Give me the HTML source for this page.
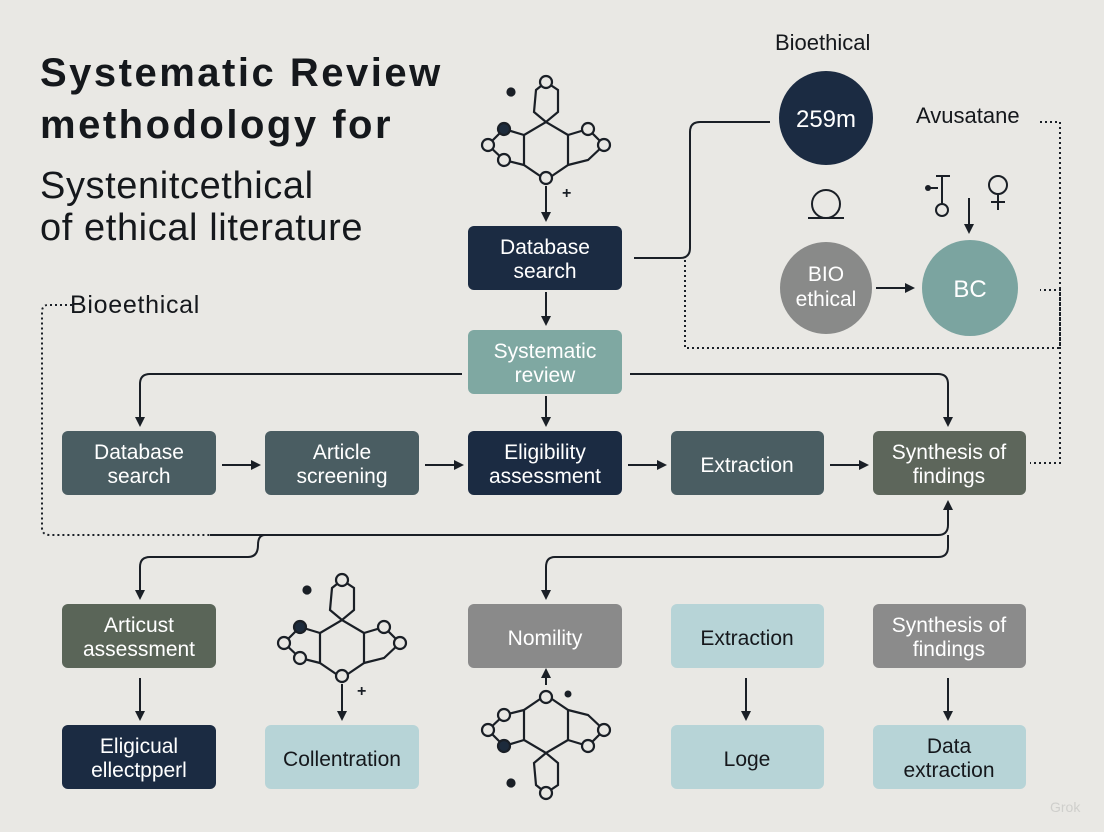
<!DOCTYPE html>
<html><head><meta charset="utf-8"><style>
body{margin:0;background:#e9e8e4;}
svg{display:block}
text{font-family:"Liberation Sans",sans-serif}
</style></head><body>
<svg width="1104" height="832" viewBox="0 0 1104 832" xmlns="http://www.w3.org/2000/svg">
<defs>
<marker id="a" markerWidth="10" markerHeight="10" refX="8" refY="5" orient="auto" markerUnits="userSpaceOnUse"><path d="M0,0 L10,5 L0,10 z" fill="#1a1f26"/></marker>
<g id="mol" fill="none" stroke="#1a1f26" stroke-width="2.2">
<path d="M0,0 L22,-15 L22,-45 M0,0 L-22,-15 L-22,-45 L0,-58 L22,-45"/>
<path d="M0,-58 L-12,-68 L-10,-90 L0,-98 L12,-90 L12,-68 Z"/>
<path d="M-22,-45 L-42,-51 L-58,-35 L-42,-20 L-22,-15"/>
<path d="M22,-45 L42,-51 L58,-35 L42,-20 L22,-15"/>
<circle cx="0" cy="-2" r="6" fill="#e9e8e4"/><circle cx="0" cy="-98" r="6" fill="#e9e8e4"/>
<circle cx="-42" cy="-51" r="6" fill="#1d2b3c"/><circle cx="-58" cy="-35" r="6" fill="#e9e8e4"/><circle cx="-42" cy="-20" r="6" fill="#e9e8e4"/>
<circle cx="42" cy="-51" r="6" fill="#e9e8e4"/><circle cx="58" cy="-35" r="6" fill="#e9e8e4"/>
<circle cx="-35" cy="-88" r="3.5" fill="#1a1f26"/>
</g>
</defs>
<g font-weight="bold" fill="#15181c" letter-spacing="2.5"><text x="40" y="86" font-size="40">Systematic Review</text><text x="40" y="138" font-size="40">methodology for</text></g>
<g fill="#15181c" font-size="38" letter-spacing="0.6"><text x="40" y="198">Systenitcethical</text><text x="40" y="240">of ethical literature</text></g>
<text x="70" y="313" font-size="25" fill="#15181c" letter-spacing="0.7">Bioeethical</text>
<text x="775" y="50" font-size="22" fill="#15181c">Bioethical</text>
<text x="916" y="123" font-size="22" fill="#15181c">Avusatane</text>

<use href="#mol" x="546" y="180"/>
<text x="562" y="198" font-size="16" font-weight="bold" fill="#1a1f26">+</text>
<use href="#mol" x="342" y="678"/>
<text x="357" y="696" font-size="16" font-weight="bold" fill="#1a1f26">+</text>
<g transform="translate(546,695) scale(1,-1)"><use href="#mol"/></g>

<g fill="none" stroke="#1a1f26" stroke-width="2">
<path d="M546,186 V220" marker-end="url(#a)"/>
<path d="M546,292 V324" marker-end="url(#a)"/>
<path d="M546,396 V425" marker-end="url(#a)"/>
<path d="M634,258 H680 Q690,258 690,248 V132 Q690,122 700,122 H770"/>
<path d="M462,374 H150 Q140,374 140,384 V425" marker-end="url(#a)"/>
<path d="M630,374 H938 Q948,374 948,384 V425" marker-end="url(#a)"/>
<path d="M222,465 H259" marker-end="url(#a)"/>
<path d="M425,465 H462" marker-end="url(#a)"/>
<path d="M628,465 H665" marker-end="url(#a)"/>
<path d="M830,465 H867" marker-end="url(#a)"/>
<path d="M210,535 H938 Q948,535 948,525 V502" marker-end="url(#a)"/>
<path d="M265,535 Q258,535 258,545 Q258,557 248,557 H150 Q140,557 140,567 V598" marker-end="url(#a)"/>
<path d="M948,535 V547 Q948,557 938,557 H555 Q546,557 546,567 V598" marker-end="url(#a)"/>
<path d="M140,678 V719" marker-end="url(#a)"/>
<path d="M342,684 V719" marker-end="url(#a)"/>
<path d="M546,685 V670" marker-end="url(#a)"/>
<path d="M746,678 V719" marker-end="url(#a)"/>
<path d="M948,678 V719" marker-end="url(#a)"/>
<path d="M876,288 H913" marker-end="url(#a)"/>
<path d="M969,198 V232" marker-end="url(#a)"/>
<path d="M808,218 H844 M812,204 A14,14 0 1 1 840,204 A14,14 0 1 1 812,204"/>
<path d="M926,188 H938 M942,176 V205 M936,176 H950"/><circle cx="942" cy="210" r="6"/>
<circle cx="998" cy="185" r="9"/><path d="M998,194 V210 M991,202 H1005"/>
</g>
<circle cx="928" cy="188" r="3" fill="#1a1f26"/>
<circle cx="568" cy="694" r="3.5" fill="#1a1f26"/>
<g fill="none" stroke="#1a1f26" stroke-width="2" stroke-dasharray="2,3">
<path d="M72,305 H48 Q42,305 42,312 V528 Q42,535 50,535 H210"/>
<path d="M685,260 V348 H1060 V290 H1040"/>
<path d="M1040,122 H1060 V463 H1030"/>
</g>

<circle cx="826" cy="118" r="47" fill="#1b2b42"/><text x="826" y="127" font-size="24" fill="#fff" text-anchor="middle">259m</text>
<circle cx="826" cy="288" r="46" fill="#898a89"/><text x="826" y="281" font-size="21" fill="#fff" text-anchor="middle">BIO</text><text x="826" y="306" font-size="21" fill="#fff" text-anchor="middle">ethical</text>
<circle cx="970" cy="288" r="48" fill="#7ba4a0"/><text x="970" y="297" font-size="24" fill="#fff" text-anchor="middle">BC</text>

<g font-size="21" text-anchor="middle">
<rect x="468" y="226" width="154" height="64" rx="6" fill="#1b2b42"/><text x="545" y="254" fill="#fff">Database</text><text x="545" y="278" fill="#fff">search</text>
<rect x="468" y="330" width="154" height="64" rx="6" fill="#7fa8a2"/><text x="545" y="358" fill="#fff">Systematic</text><text x="545" y="382" fill="#fff">review</text>
<rect x="62" y="431" width="154" height="64" rx="6" fill="#4a5d62"/><text x="139" y="459" fill="#fff">Database</text><text x="139" y="483" fill="#fff">search</text>
<rect x="265" y="431" width="154" height="64" rx="6" fill="#4a5d62"/><text x="342" y="459" fill="#fff">Article</text><text x="342" y="483" fill="#fff">screening</text>
<rect x="468" y="431" width="154" height="64" rx="6" fill="#1b2b42"/><text x="545" y="459" fill="#fff">Eligibility</text><text x="545" y="483" fill="#fff">assessment</text>
<rect x="671" y="431" width="153" height="64" rx="6" fill="#4a5d62"/><text x="747" y="472" fill="#fff">Extraction</text>
<rect x="873" y="431" width="153" height="64" rx="6" fill="#5d665b"/><text x="949" y="459" fill="#fff">Synthesis of</text><text x="949" y="483" fill="#fff">findings</text>
<rect x="62" y="604" width="154" height="64" rx="6" fill="#5a6558"/><text x="139" y="632" fill="#fff">Articust</text><text x="139" y="656" fill="#fff">assessment</text>
<rect x="468" y="604" width="154" height="64" rx="6" fill="#8a8a8a"/><text x="545" y="645" fill="#fff">Nomility</text>
<rect x="671" y="604" width="153" height="64" rx="6" fill="#b7d4d7"/><text x="747" y="645" fill="#15181c">Extraction</text>
<rect x="873" y="604" width="153" height="64" rx="6" fill="#8b8b8b"/><text x="949" y="632" fill="#fff">Synthesis of</text><text x="949" y="656" fill="#fff">findings</text>
<rect x="62" y="725" width="154" height="64" rx="6" fill="#1b2b42"/><text x="139" y="753" fill="#fff">Eligicual</text><text x="139" y="777" fill="#fff">ellectpperl</text>
<rect x="265" y="725" width="154" height="64" rx="6" fill="#b7d4d7"/><text x="342" y="766" fill="#15181c">Collentration</text>
<rect x="671" y="725" width="153" height="64" rx="6" fill="#b7d4d7"/><text x="747" y="766" fill="#15181c">Loge</text>
<rect x="873" y="725" width="153" height="64" rx="6" fill="#b7d4d7"/><text x="949" y="753" fill="#15181c">Data</text><text x="949" y="777" fill="#15181c">extraction</text>
</g>
<text x="1050" y="812" font-size="14" fill="#cfcfcc">Grok</text>
</svg>
</body></html>
